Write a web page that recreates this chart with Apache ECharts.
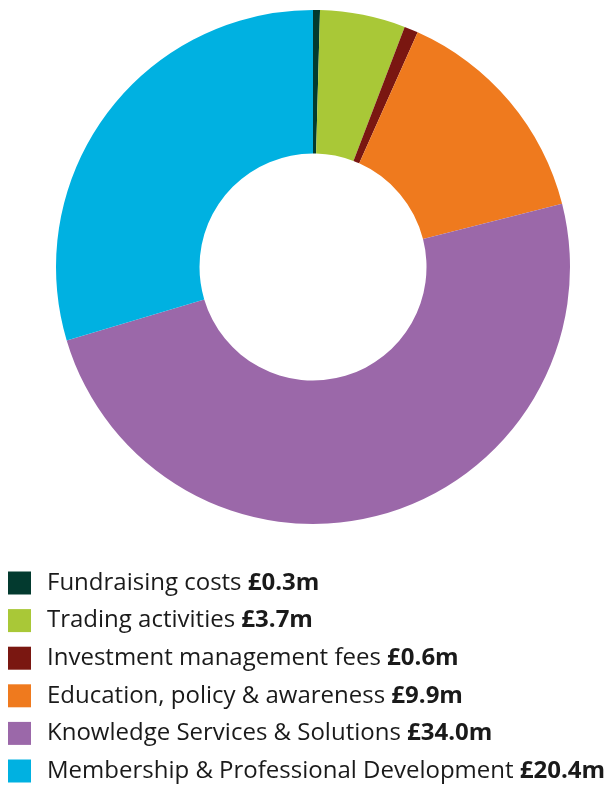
<!DOCTYPE html>
<html>
<head>
<meta charset="utf-8">
<script src="https://cdn.jsdelivr.net/npm/echarts@6/dist/echarts.min.js"></script>
<style>
html,body{margin:0;padding:0;background:#fff;}
#c{width:609px;height:785px;}
</style>
</head>
<body>
<div id="c"></div>
<script>
const categories = ["Fundraising costs", "Trading activities", "Investment management fees", "Education, policy & awareness", "Knowledge Services & Solutions", "Membership & Professional Development"];
const values = [0.3, 3.7, 0.6, 9.9, 34.0, 20.4];
const valueLabels = ["£0.3m", "£3.7m", "£0.6m", "£9.9m", "£34.0m", "£20.4m"];
const colors = ["#033a2f", "#a9c837", "#7a1711", "#ef7a1e", "#9b68a9", "#00b1e1"];

const chart = echarts.init(document.getElementById('c'), null, {renderer: 'canvas'});
chart.setOption({
  animation: false,
  color: colors,
  legend: {
    orient: 'vertical',
    left: 3,
    top: 566,
    width: 606,
    height: 230,
    itemWidth: 23,
    itemHeight: 23,
    itemGap: 13.6,
    icon: 'rect',
    data: categories,
    formatter: function (name) {
      const i = categories.indexOf(name);
      return '{n|' + name + ' }{b|' + valueLabels[i] + '}';
    },
    textStyle: {
      padding: [0, 0, 0, 11],
      rich: {
        n: {fontFamily: 'Open Sans', fontSize: 24, color: '#1a1a1a'},
        b: {fontFamily: 'Open Sans', fontSize: 24, fontWeight: 'bold', color: '#1a1a1a'}
      }
    },
    selectedMode: false
  },
  series: [{
    type: 'pie',
    center: [313, 267],
    radius: [113.5, 257],
    startAngle: 90,
    clockwise: true,
    label: {show: false},
    labelLine: {show: false},
    emphasis: {disabled: true},
    itemStyle: {borderWidth: 0},
    data: categories.map((c, i) => ({name: c, value: values[i]}))
  }]
});
</script>
</body>
</html>
